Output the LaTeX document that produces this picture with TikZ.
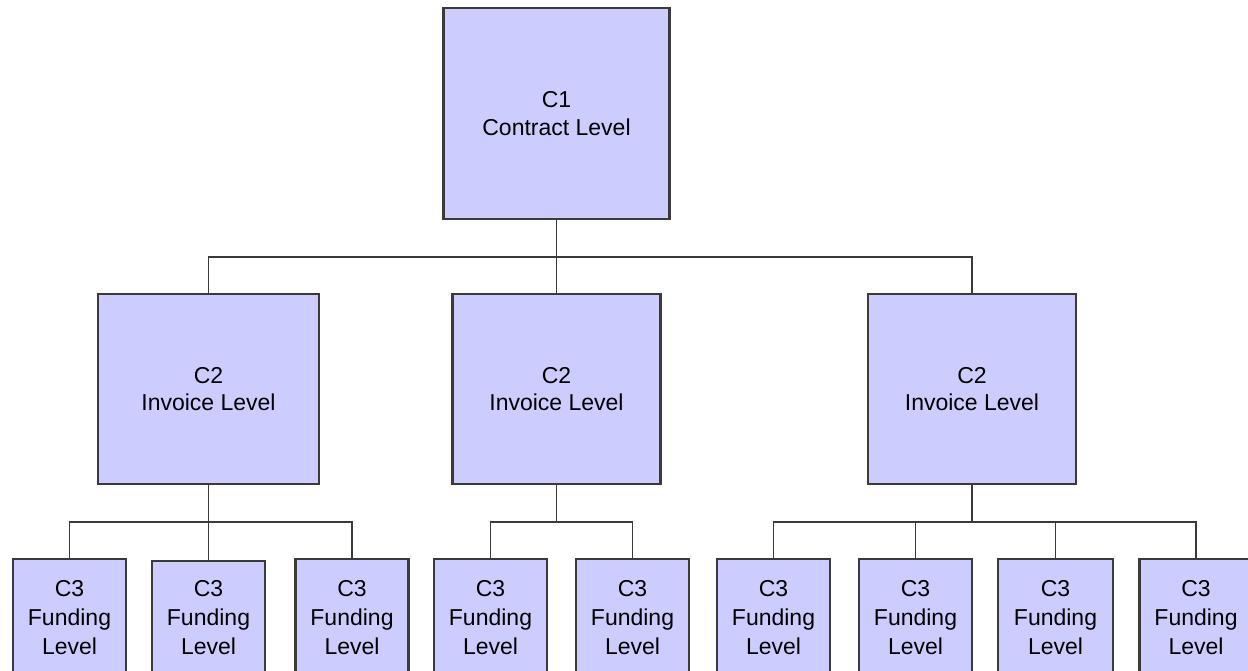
\documentclass[tikz,border=0pt]{standalone}
\usepackage{fontspec}
\setmainfont{Liberation Sans}
\definecolor{boxfill}{HTML}{CCCCFF}
\definecolor{boxline}{HTML}{3A3A3A}
\begin{document}
\begin{tikzpicture}[x=1pt,y=-1pt,
  lvl/.style={draw=boxline,fill=boxfill,line width=2.2pt,rectangle,inner sep=0pt,
    align=center,font=\fontsize{23}{27.5}\selectfont},
  lvlone/.style={lvl,minimum width=226pt,minimum height=211pt},
  lvltwo/.style={lvl,minimum width=208pt,minimum height=190pt},
  lvlthree/.style={lvl,minimum width=113pt,minimum height=118pt,font=\fontsize{23}{29}\selectfont},
  conn/.style={draw=boxline,line width=1.8pt}]
\useasboundingbox (0,0) rectangle (1248,671);
\clip (0,0) rectangle (1248,671);
% level 1
\node[lvlone] (c1) at (556.5,113.5) {C1\\Contract Level};
% level 2
\node[lvltwo,minimum width=221pt] (c2a) at (208.5,389) {C2\\Invoice Level};
\node[lvltwo] (c2b) at (556.5,389) {C2\\Invoice Level};
\node[lvltwo] (c2c) at (972,389) {C2\\Invoice Level};
% level 3
\node[lvlthree] (f1) at (69.5,618) {C3\\Funding\\Level};
\node[lvlthree,minimum height=114pt] (f2) at (208.5,618) {C3\\Funding\\Level};
\node[lvlthree] (f3) at (352,618) {C3\\Funding\\Level};
\node[lvlthree] (f4) at (490.5,618) {C3\\Funding\\Level};
\node[lvlthree] (f5) at (632.5,618) {C3\\Funding\\Level};
\node[lvlthree] (f6) at (773.5,618) {C3\\Funding\\Level};
\node[lvlthree] (f7) at (915.5,618) {C3\\Funding\\Level};
\node[lvlthree,minimum width=115pt] (f8) at (1055.5,618) {C3\\Funding\\Level};
\node[lvlthree] (f9) at (1196,618) {C3\\Funding\\Level};
% bus coordinates
\coordinate (b1) at (556.5,257);
\coordinate (b2) at (208.5,522);
\coordinate (b3) at (556.5,522);
\coordinate (b4) at (972,522);
% connectors
\draw[conn] (c1.south) -- (b1);
\draw[conn] (c2a.north) |- (b1) -| (c2c.north);
\draw[conn] (b1) -- (c2b.north);
\draw[conn] (c2a.south) -- (b2);
\draw[conn] (f1.north) |- (b2) -| (f3.north);
\draw[conn] (b2) -- (f2.north);
\draw[conn] (c2b.south) -- (b3);
\draw[conn] (f4.north) |- (b3) -| (f5.north);
\draw[conn] (c2c.south) -- (b4);
\draw[conn] (f6.north) |- (b4) -| (f9.north);
\draw[conn] (f7.north) -- (f7.north |- b4);
\draw[conn] (f8.north) -- (f8.north |- b4);
\end{tikzpicture}
\end{document}
